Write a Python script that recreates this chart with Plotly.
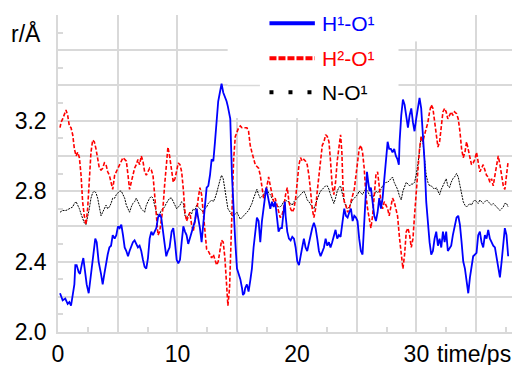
import numpy as np
import plotly.graph_objects as go

# ---------------- data ----------------
t_h1 = [0.17,0.39,0.61,0.81,0.95,1.09,1.23,1.37,1.45,1.56,1.73,1.84,2.01,2.12,2.29,2.40,2.57,2.76,2.96,3.12,3.24,3.40,3.60,3.74,3.88,4.02,4.16,4.30,4.44,4.58,
        4.74,4.88,5.02,5.16,5.30,5.44,5.58,5.72,5.86,5.99,6.13,6.27,6.41,6.55,6.69,6.83,6.97,7.11,7.25,7.39,7.53,7.67,7.81,7.95,8.09,8.23,8.37,8.51,8.64,8.78,8.92,9.06,9.20,9.34,
        9.51,9.65,9.79,9.93,10.07,10.21,10.35,10.49,10.63,10.76,10.90,11.04,11.18,11.32,11.46,11.60,11.74,11.88,12.02,12.16,12.30,12.44,12.58,12.72,12.86,13.00,13.14,13.28,13.41,13.55,13.69,13.83,13.97,14.11,14.22,
        14.42,14.56,14.70,14.84,14.98,15.12,15.26,15.40,15.48,15.59,15.67,15.81,15.95,16.09,16.23,16.37,16.51,16.65,16.79,16.93,17.07,17.21,17.35,17.43,17.54,17.65,17.77,17.91,18.05,18.18,18.32,18.46,18.60,18.74,18.88,18.99,
        19.05,19.19,19.33,19.47,19.61,19.75,19.89,20.03,20.17,20.30,20.44,20.58,20.72,20.86,21.00,21.14,21.28,21.42,21.56,21.70,21.84,21.98,22.12,22.26,22.40,22.54,22.68,22.81,22.95,23.09,23.23,23.37,23.51,23.65,
        23.82,23.96,24.10,24.24,24.38,24.52,24.66,24.80,24.94,25.07,25.21,25.35,25.49,25.63,25.77,25.86,25.97,26.08,26.19,26.33,26.47,26.61,26.75,26.89,27.03,27.17,27.31,27.45,27.59,27.72,27.86,28.00,28.14,28.28,28.42,28.53,
        28.59,28.73,28.87,29.01,29.15,29.29,29.43,29.57,29.71,29.84,29.98,30.12,30.26,30.40,30.54,30.68,30.82,30.96,31.10,31.24,31.38,31.52,31.66,31.80,31.94,32.08,32.22,32.36,32.49,32.63,32.77,32.91,33.05,33.19,
        33.36,33.50,33.64,33.78,33.92,34.06,34.20,34.34,34.48,34.61,34.75,34.89,35.03,35.17,35.31,35.45,35.59,35.73,35.87,36.01,36.15,36.29,36.43,36.57,36.71,36.85,36.99,37.13,37.27,37.40,37.54,37.68]
r_h1 = [2.22,2.18,2.19,2.16,2.17,2.15,2.21,2.27,2.38,2.38,2.34,2.33,2.39,2.42,2.33,2.27,2.22,2.33,2.44,2.53,2.51,2.40,2.33,2.27,2.33,2.40,2.44,2.48,2.49,2.55,
        2.53,2.55,2.60,2.59,2.61,2.55,2.48,2.46,2.43,2.46,2.49,2.51,2.52,2.50,2.48,2.49,2.46,2.41,2.37,2.36,2.42,2.53,2.57,2.55,2.57,2.59,2.65,2.67,2.65,2.57,2.48,2.43,2.46,2.48,
        2.57,2.59,2.51,2.41,2.39,2.41,2.51,2.60,2.57,2.55,2.50,2.53,2.57,2.59,2.63,2.70,2.65,2.59,2.51,2.63,2.74,2.82,2.83,2.89,2.98,2.97,3.08,3.21,3.31,3.36,3.41,3.36,3.34,3.31,3.28,
        3.21,2.89,2.66,2.51,2.36,2.33,2.30,2.25,2.21,2.22,2.25,2.27,2.23,2.29,2.36,2.48,2.55,2.65,2.63,2.51,2.63,2.70,2.80,2.82,2.78,2.74,2.70,2.74,2.71,2.74,2.65,2.57,2.59,2.59,2.68,2.74,
        2.66,2.57,2.53,2.52,2.54,2.53,2.48,2.40,2.38,2.44,2.48,2.53,2.48,2.46,2.51,2.55,2.59,2.62,2.59,2.53,2.46,2.43,2.46,2.48,2.53,2.49,2.51,2.48,2.51,2.55,2.58,2.53,2.55,2.54,
        2.63,2.70,2.66,2.65,2.68,2.70,2.63,2.66,2.65,2.63,2.53,2.46,2.44,2.63,2.83,2.91,2.85,2.80,2.82,2.72,2.66,2.63,2.68,2.76,2.70,2.76,2.87,2.99,3.08,3.04,3.04,3.02,3.04,3.00,2.98,2.95,
        3.08,3.23,3.32,3.29,3.21,3.16,3.23,3.27,3.19,3.14,3.21,3.27,3.33,3.27,3.14,2.97,2.74,2.61,2.51,2.44,2.46,2.53,2.57,2.49,2.53,2.48,2.57,2.51,2.57,2.46,2.48,2.49,2.55,2.59,
        2.65,2.66,2.61,2.51,2.40,2.36,2.29,2.22,2.31,2.36,2.43,2.44,2.45,2.55,2.57,2.51,2.48,2.55,2.53,2.58,2.53,2.51,2.49,2.48,2.42,2.36,2.31,2.40,2.51,2.59,2.55,2.43]

t_h2 = [0.17,0.25,0.39,0.53,0.67,0.81,0.95,1.09,1.23,1.37,1.51,1.65,1.79,1.93,2.06,2.20,2.34,2.48,2.62,2.76,2.90,3.04,3.18,3.32,3.46,3.60,3.74,3.88,4.02,4.16,4.30,4.44,4.58,
        4.74,4.88,5.02,5.16,5.30,5.44,5.58,5.72,5.86,5.99,6.13,6.27,6.41,6.55,6.69,6.83,6.97,7.11,7.25,7.39,7.53,7.67,7.81,7.95,8.09,8.23,8.37,8.51,8.64,8.78,8.92,9.06,9.20,9.34,
        9.51,9.65,9.79,9.93,10.07,10.21,10.35,10.49,10.63,10.76,10.90,11.04,11.18,11.32,11.46,11.60,11.74,11.88,12.02,12.16,12.30,12.44,12.58,12.72,12.86,13.00,13.14,13.28,13.41,13.55,13.69,13.83,13.97,14.11,14.22,
        14.36,14.47,14.59,14.70,14.84,14.98,15.12,15.26,15.40,15.53,15.67,15.81,15.95,16.09,16.23,16.37,16.51,16.65,16.79,16.93,17.07,17.21,17.35,17.49,17.63,17.77,17.91,18.05,18.18,18.32,18.46,18.60,18.74,18.88,
        19.05,19.19,19.33,19.47,19.61,19.75,19.89,20.03,20.17,20.30,20.44,20.58,20.72,20.86,21.00,21.14,21.28,21.42,21.56,21.70,21.84,21.98,22.12,22.26,22.40,22.54,22.68,22.81,22.95,23.09,23.23,23.37,23.51,23.65,
        23.76,23.85,23.96,24.10,24.24,24.38,24.52,24.66,24.80,24.94,25.07,25.21,25.35,25.49,25.63,25.77,25.91,26.05,26.19,26.33,26.47,26.61,26.75,26.89,27.03,27.17,27.31,27.45,27.59,27.72,27.86,28.00,28.14,28.28,28.42,
        28.59,28.73,28.87,29.01,29.15,29.29,29.43,29.57,29.71,29.84,29.98,30.12,30.26,30.40,30.54,30.68,30.82,30.96,31.10,31.24,31.38,31.52,31.66,31.80,31.94,32.08,32.22,32.36,32.49,32.63,32.77,32.91,33.05,33.19,
        33.36,33.50,33.64,33.78,33.92,34.06,34.20,34.34,34.48,34.61,34.75,34.89,35.03,35.17,35.31,35.45,35.59,35.73,35.87,36.01,36.15,36.29,36.43,36.57,36.71,36.85,36.99,37.13,37.27,37.40,37.54,37.68]
r_h2 = [3.16,3.19,3.21,3.24,3.26,3.23,3.17,3.16,3.12,3.04,3.00,3.02,2.99,2.89,2.74,2.66,2.61,2.70,2.89,3.02,3.09,3.08,3.04,2.99,2.93,2.92,2.93,2.96,2.95,2.91,2.89,2.85,2.81,
        2.89,2.91,2.93,2.95,2.97,2.99,2.98,2.97,2.89,2.81,2.85,2.89,2.93,2.95,2.98,2.95,3.00,2.97,2.91,2.89,2.91,2.93,2.92,2.89,2.78,2.66,2.55,2.57,2.63,2.70,2.83,2.95,3.05,3.00,
        2.93,2.85,2.87,2.91,2.96,2.95,2.91,2.81,2.68,2.63,2.66,2.68,2.61,2.57,2.63,2.68,2.76,2.82,2.78,2.68,2.55,2.47,2.46,2.44,2.42,2.44,2.41,2.38,2.40,2.47,2.52,2.51,2.42,2.27,2.15,
        2.25,2.51,2.80,2.98,3.11,3.13,3.16,3.17,3.16,3.16,3.16,3.16,3.14,3.06,3.02,2.99,2.95,2.94,2.93,2.89,2.82,2.76,2.78,2.83,2.88,2.83,2.78,2.74,2.76,2.72,2.68,2.65,2.66,2.70,
        2.78,2.82,2.74,2.70,2.68,2.70,2.76,2.85,2.95,2.99,2.97,2.98,2.97,2.95,2.89,2.80,2.70,2.65,2.70,2.80,2.89,2.99,3.06,3.08,3.12,3.11,3.08,2.97,2.83,2.78,2.85,2.97,3.06,3.12,
        3.02,2.83,2.74,2.72,2.68,2.70,2.74,2.78,2.81,2.89,2.97,3.04,3.06,3.02,2.93,2.78,2.70,2.65,2.59,2.66,2.80,2.89,2.91,2.83,2.74,2.70,2.74,2.72,2.70,2.66,2.72,2.76,2.74,2.70,2.66,
        2.53,2.44,2.36,2.44,2.57,2.59,2.55,2.48,2.53,2.66,2.80,2.95,3.04,3.11,3.08,3.12,3.15,3.19,3.25,3.29,3.27,3.19,3.12,3.05,3.08,3.17,3.25,3.27,3.25,3.21,3.23,3.25,3.23,3.25,
        3.24,3.21,3.14,3.04,2.99,3.02,3.08,3.04,2.99,2.95,2.96,2.98,3.02,2.97,2.91,2.93,2.95,2.92,2.89,2.88,2.85,2.87,2.83,2.89,2.95,3.00,2.95,2.89,2.83,2.81,2.89,2.97]

t_no = [0.17,0.39,0.67,0.95,1.23,1.37,1.51,1.65,1.79,1.93,2.06,2.20,2.34,2.48,2.62,2.76,2.90,3.04,3.18,3.32,3.46,3.60,3.74,3.88,4.02,4.16,4.30,4.44,4.58,
        4.74,4.88,5.02,5.16,5.30,5.44,5.58,5.72,5.86,5.99,6.13,6.27,6.41,6.55,6.69,6.83,6.97,7.11,7.25,7.39,7.53,7.67,7.81,7.95,8.09,8.23,8.37,8.51,8.64,8.78,8.92,9.06,9.20,9.34,
        9.51,9.65,9.79,9.93,10.07,10.21,10.35,10.49,10.63,10.76,10.90,11.04,11.18,11.32,11.46,11.60,11.74,11.88,12.02,12.16,12.30,12.44,12.58,12.72,12.86,13.00,13.14,13.28,13.41,13.55,13.69,13.83,13.97,14.11,14.22,
        14.42,14.56,14.70,14.84,14.98,15.12,15.26,15.40,15.53,15.67,15.81,15.95,16.09,16.23,16.37,16.51,16.65,16.79,16.93,17.07,17.21,17.35,17.49,17.63,17.77,17.91,18.05,18.18,18.32,18.46,18.60,18.74,18.88,
        19.05,19.19,19.33,19.47,19.61,19.75,19.89,20.03,20.17,20.30,20.44,20.58,20.72,20.86,21.00,21.14,21.28,21.42,21.56,21.70,21.84,21.98,22.12,22.26,22.40,22.54,22.68,22.81,22.95,23.09,23.23,23.37,23.51,23.65,
        23.82,23.96,24.10,24.24,24.38,24.52,24.66,24.80,24.94,25.07,25.21,25.35,25.49,25.63,25.77,25.91,26.05,26.19,26.33,26.47,26.61,26.75,26.89,27.03,27.17,27.31,27.45,27.59,27.72,27.86,28.00,28.14,28.28,28.42,
        28.59,28.73,28.87,29.01,29.15,29.29,29.43,29.57,29.71,29.84,29.98,30.12,30.26,30.40,30.54,30.68,30.82,30.96,31.10,31.24,31.38,31.52,31.66,31.80,31.94,32.08,32.22,32.36,32.49,32.63,32.77,32.91,33.05,33.19,
        33.36,33.50,33.64,33.78,33.92,34.06,34.20,34.34,34.48,34.61,34.75,34.89,35.03,35.17,35.31,35.45,35.59,35.73,35.87,36.01,36.15,36.29,36.43,36.57,36.71,36.85,36.99,37.13,37.27,37.40,37.54,37.68]
r_no = [2.68,2.69,2.69,2.70,2.71,2.73,2.74,2.72,2.70,2.67,2.65,2.62,2.61,2.65,2.70,2.76,2.79,2.80,2.79,2.76,2.70,2.66,2.68,2.70,2.72,2.70,2.71,2.73,2.76,
        2.76,2.78,2.79,2.80,2.80,2.78,2.76,2.72,2.70,2.68,2.71,2.73,2.74,2.76,2.74,2.72,2.70,2.69,2.68,2.72,2.74,2.76,2.77,2.76,2.72,2.68,2.66,2.67,2.69,2.70,2.71,2.73,2.75,2.76,
        2.76,2.74,2.72,2.70,2.71,2.72,2.74,2.73,2.66,2.65,2.66,2.68,2.67,2.70,2.69,2.72,2.71,2.70,2.69,2.68,2.70,2.71,2.73,2.74,2.75,2.74,2.76,2.79,2.83,2.86,2.89,2.87,2.81,2.76,2.70,
        2.68,2.66,2.66,2.67,2.68,2.66,2.64,2.65,2.66,2.67,2.68,2.69,2.71,2.73,2.76,2.79,2.81,2.78,2.76,2.77,2.78,2.80,2.81,2.79,2.78,2.76,2.74,2.73,2.72,2.71,2.71,2.72,2.74,
        2.75,2.74,2.74,2.73,2.72,2.74,2.75,2.76,2.77,2.78,2.79,2.80,2.78,2.75,2.74,2.72,2.71,2.70,2.73,2.76,2.78,2.80,2.81,2.82,2.83,2.83,2.81,2.78,2.76,2.73,2.76,2.80,2.82,2.83,
        2.78,2.74,2.71,2.70,2.71,2.73,2.75,2.76,2.77,2.78,2.80,2.79,2.78,2.80,2.81,2.80,2.78,2.77,2.76,2.78,2.80,2.79,2.80,2.81,2.83,2.84,2.85,2.85,2.86,2.87,2.88,2.85,2.83,2.81,
        2.77,2.75,2.80,2.83,2.85,2.84,2.83,2.84,2.84,2.85,2.89,2.95,3.04,3.11,3.08,2.97,2.89,2.85,2.83,2.83,2.82,2.81,2.82,2.80,2.78,2.81,2.83,2.85,2.87,2.83,2.82,2.85,2.87,2.88,
        2.90,2.88,2.83,2.78,2.74,2.72,2.71,2.72,2.73,2.72,2.74,2.75,2.74,2.73,2.75,2.74,2.73,2.74,2.75,2.74,2.73,2.72,2.73,2.72,2.71,2.70,2.69,2.70,2.71,2.73,2.73,2.71]

series_names = ["H¹-O¹", "H²-O¹", "N-O¹"]
series_colors = ["#0000ff", "#ff0000", "#000000"]

y_major = [2.0, 2.2, 2.4, 2.6, 2.8, 3.0, 3.2, 3.4, 3.6]
y_labels = ["2.0", "", "2.4", "", "2.8", "", "3.2", "", ""]
x_major = [0, 5, 10, 15, 20, 25, 30, 35]
x_labels = ["0", "", "10", "", "20", "", "30", ""]

FONT = "Liberation Sans, Arial, sans-serif"
GRID = "#d9d9d9"

fig = go.Figure()
fig.add_trace(go.Scatter(x=t_no, y=r_no, mode="lines", name=series_names[2],
                         line=dict(color=series_colors[2], width=1, dash="2px,1px"), showlegend=False))
fig.add_trace(go.Scatter(x=t_h2, y=r_h2, mode="lines", name=series_names[1],
                         line=dict(color=series_colors[1], width=1.6, dash="4px,2px"), showlegend=False))
fig.add_trace(go.Scatter(x=t_h1, y=r_h1, mode="lines", name=series_names[0],
                         line=dict(color=series_colors[0], width=1.8), showlegend=False))

# white legend area covering the grid
shapes = [
    dict(type="rect", xref="x", yref="y", x0=14.2, x1=28.5, y0=3.215, y1=3.8,
         fillcolor="white", line=dict(width=0), layer="between"),
    dict(type="rect", xref="x", yref="y", x0=28.5, x1=30.4, y0=3.65, y1=3.8,
         fillcolor="white", line=dict(width=0), layer="between"),
    dict(type="line", xref="x", yref="y", x0=14.2, x1=16.9, y0=3.4, y1=3.4,
         line=dict(color=GRID, width=1.5), layer="between"),
]
# legend samples
leg_y = [3.753, 3.555, 3.362]
leg_dash = ["solid", "7px,2px", "4px,15px"]
annotations = []
for i in range(3):
    shapes.append(dict(type="line", xref="x", yref="y", x0=17.7, x1=21.5, y0=leg_y[i], y1=leg_y[i],
                       line=dict(color=series_colors[i], width=4, dash=leg_dash[i]), layer="above"))
    annotations.append(dict(x=21.9, y=leg_y[i], xref="x", yref="y", text=series_names[i],
                            showarrow=False, xanchor="left", yanchor="middle",
                            font=dict(family=FONT, size=21, color=series_colors[i])))

annotations.append(dict(x=0, y=0.9425, xref="paper", yref="paper", text="r/Å", showarrow=False,
                        xanchor="right", yanchor="middle", xshift=-15,
                        font=dict(family=FONT, size=23, color="#000000")))
annotations.append(dict(x=1, y=0, xref="paper", yref="paper", text="time/ps", showarrow=False,
                        xanchor="right", yanchor="middle", yshift=-22, xshift=1,
                        font=dict(family=FONT, size=23, color="#000000")))

fig.update_layout(
    width=515, height=365,
    margin=dict(l=58, r=3, t=15, b=33),
    paper_bgcolor="white", plot_bgcolor="white",
    font=dict(family=FONT, size=23, color="#000000"),
    shapes=shapes, annotations=annotations,
    showlegend=False,
)
fig.update_xaxes(range=[0, 38], tickmode="array", tickvals=x_major, ticktext=x_labels,
                 showgrid=True, gridcolor=GRID, gridwidth=1.5, zeroline=False,
                 showline=True, linecolor=GRID, linewidth=1.5, ticks="",
                 ticklabelstandoff=1, automargin=False,
                 minor=dict(tickmode="array", tickvals=list(np.arange(2.5, 38, 5)),
                            ticks="inside", ticklen=5, tickcolor=GRID, tickwidth=1.5, showgrid=False))
fig.update_yaxes(range=[2.0, 3.8], tickmode="array", tickvals=y_major, ticktext=y_labels,
                 showgrid=True, gridcolor=GRID, gridwidth=1.5, zeroline=False,
                 showline=True, linecolor=GRID, linewidth=1.5, ticks="",
                 ticklabelstandoff=5, automargin=False,
                 minor=dict(tickmode="array", tickvals=[round(v, 1) for v in np.arange(2.1, 3.8, 0.2)],
                            ticks="inside", ticklen=5, tickcolor=GRID, tickwidth=1.5, showgrid=False))

fig.write_html("out.html", config={"displayModeBar": False},
               post_script="document.body.style.margin='0';document.body.style.padding='0';")
